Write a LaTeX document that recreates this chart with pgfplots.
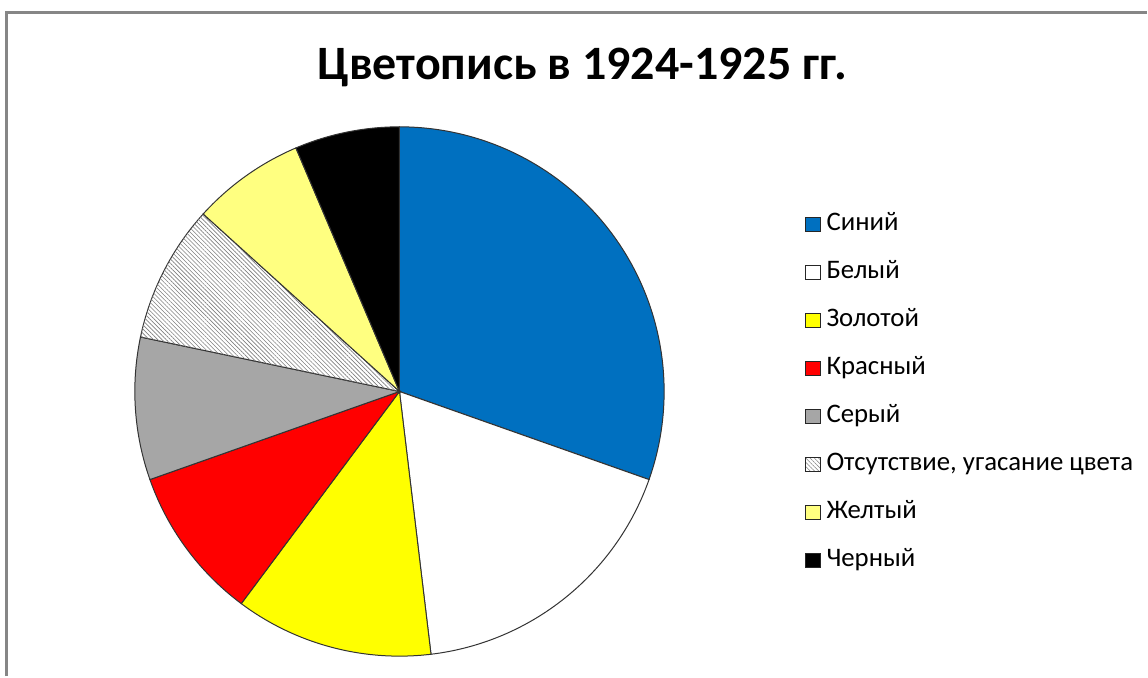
\documentclass[border=0pt]{standalone}
\usepackage{pgfplots}
\pgfplotsset{compat=1.18}
\usepackage{pgfplotstable}
\usepackage{fontspec}
\setmainfont{Carlito}
\usetikzlibrary{patterns.meta}

\definecolor{cBlue}{HTML}{0070C0}
\definecolor{cGold}{HTML}{FFFF00}
\definecolor{cRed}{HTML}{FF0000}
\definecolor{cGray}{HTML}{A6A6A6}
\definecolor{cLight}{HTML}{FFFF80}
\definecolor{frameGray}{HTML}{868686}

% shares of the pie, clockwise from 12 o'clock (percent)
\pgfplotstableread{
share
30.4
17.7
12.1
9.4
8.7
8.4
6.9
6.4
}\piedata

\tikzset{
  hatchfill/.style={fill=white, postaction={pattern={Lines[angle=-45,distance=1.5pt,line width=0.3pt]}, pattern color=black!50}},
  s0/.style={fill=cBlue},
  s1/.style={fill=white},
  s2/.style={fill=cGold},
  s3/.style={fill=cRed},
  s4/.style={fill=cGray},
  s5/.style={hatchfill},
  s6/.style={fill=cLight},
  s7/.style={fill=black},
}

\begin{document}
\begin{tikzpicture}
\begin{axis}[
  x=0.5pt, y=0.5pt,
  xmin=0, xmax=1148, ymin=0, ymax=677,
  hide axis, clip=false,
  legend image code/.code={\draw[#1, draw=black!85, line width=0.45pt] (0pt,-3.6pt) rectangle (7.2pt,3.6pt);},
  legend cell align=left,
  legend style={at={(rel axis cs:0.7020,0.689)}, anchor=north west, draw=none, fill=none, inner sep=0pt,
    font=\fontsize{13.4}{16}\selectfont, row sep=10pt,
    nodes={inner sep=1pt, text height=9pt, text depth=3pt},
    /tikz/every odd column/.append style={column sep=2pt}},
]
\path (rel axis cs:0,0) rectangle (rel axis cs:1,1);
\draw[frameGray, line width=1.5pt] (axis cs:7,0) -- (axis cs:7,664) -- (axis cs:1148,664);
\node[anchor=base, font=\bfseries\fontsize{24}{28}\selectfont, inner sep=0pt] at (axis cs:583,597) {Цветопись в 1924-1925 гг.};

\pgfplotsextra{
  \gdef\angstart{90}
  \pgfplotstableforeachcolumnelement{share}\of\piedata\as\v{%
    \pgfmathsetmacro\angend{\angstart-3.6*\v}%
    \filldraw[s\pgfplotstablerow, draw=black!80, line width=0.5pt]
      (axis cs:400,285) -- ++(\angstart:132.5pt)
      arc[start angle=\angstart, end angle=\angend, radius=132.5pt] -- cycle;%
    \global\let\angstart\angend
  }%
}

\addlegendimage{fill=cBlue}\addlegendentry{Синий}
\addlegendimage{fill=white}\addlegendentry{Белый}
\addlegendimage{fill=cGold}\addlegendentry{Золотой}
\addlegendimage{fill=cRed}\addlegendentry{Красный}
\addlegendimage{fill=cGray}\addlegendentry{Серый}
\addlegendimage{hatchfill}\addlegendentry{Отсутствие, угасание цвета}
\addlegendimage{fill=cLight}\addlegendentry{Желтый}
\addlegendimage{fill=black}\addlegendentry{Черный}
\end{axis}
\end{tikzpicture}
\end{document}
